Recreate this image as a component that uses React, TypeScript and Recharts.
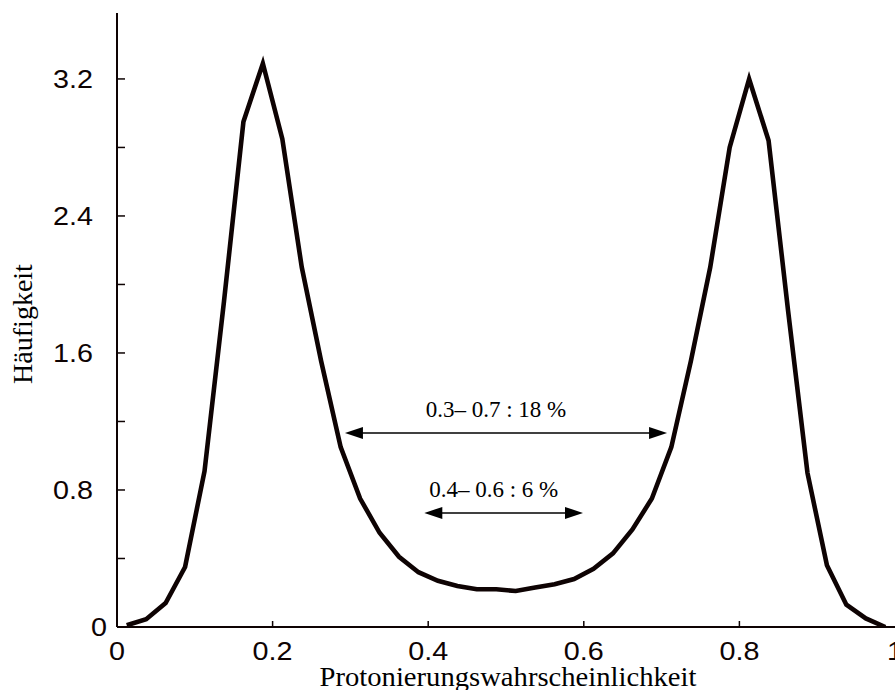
import React from "react";
import { LineChart, Line, XAxis, YAxis, ReferenceLine } from "recharts";

const probability = [
  0.0125, 0.0375, 0.0625, 0.0875, 0.1125, 0.1375, 0.1625, 0.1875, 0.2125, 0.2375,
  0.2625, 0.2875, 0.3125, 0.3375, 0.3625, 0.3875, 0.4125, 0.4375, 0.4625, 0.4875,
  0.5125, 0.5375, 0.5625, 0.5875, 0.6125, 0.6375, 0.6625, 0.6875, 0.7125, 0.7375,
  0.7625, 0.7875, 0.8125, 0.8375, 0.8625, 0.8875, 0.9125, 0.9375, 0.9625, 0.9875,
];
const frequency = [
  0.01, 0.045, 0.14, 0.35, 0.91, 1.9, 2.95, 3.29, 2.85, 2.1,
  1.55, 1.05, 0.75, 0.55, 0.41, 0.32, 0.27, 0.24, 0.22, 0.22,
  0.21, 0.23, 0.25, 0.28, 0.34, 0.43, 0.57, 0.75, 1.05, 1.55,
  2.1, 2.8, 3.2, 2.84, 1.85, 0.9, 0.36, 0.13, 0.05, 0.0,
];
const xTicks = [0, 0.2, 0.4, 0.6, 0.8, 1];
const yTicks = [0, 0.4, 0.8, 1.2, 1.6, 2.0, 2.4, 2.8, 3.2];
const yLabeled = [0, 0.8, 1.6, 2.4, 3.2];
const xLabel = "Protonierungswahrscheinlichkeit";
const yLabel = "Häufigkeit";
const ranges = [
  { from: 0.293, to: 0.707, level: 1.133, text: "0.3– 0.7 : 18 %" },
  { from: 0.395, to: 0.599, level: 0.666, text: "0.4– 0.6 : 6 %" },
];

const data = probability.map((p, i) => ({ p, f: frequency[i] }));

const SANS = "'Liberation Sans', Arial, Helvetica, sans-serif";
const SERIF = "'Liberation Serif', 'Times New Roman', serif";
const INK = "#0e0303";

const fmtY = (v: number) => (v === 0 ? "0" : v.toFixed(1));
const fmtX = (v: number) => (v === 0 ? "0" : v === 1 ? "1" : v.toFixed(1));

const BottomTick = (props: any) => {
  const { x, y, payload } = props;
  const v = payload.value;
  const inner = v > 0 && v < 1;
  return (
    <g>
      {inner && <line x1={x} y1={y} x2={x} y2={y - 6} stroke={INK} strokeWidth={1.5} />}
      <text
        transform={`translate(${x},${y + 33}) scale(1.15,1)`}
        textAnchor="middle"
        fontFamily={SANS}
        fontSize={25}
        fill={INK}
      >
        {fmtX(v)}
      </text>
    </g>
  );
};

const TopTick = (props: any) => {
  const { x, y, payload } = props;
  const v = payload.value;
  if (!(v > 0 && v < 1)) return <g />;
  return <line x1={x} y1={y} x2={x} y2={y + 6} stroke={INK} strokeWidth={1.5} />;
};

const LeftTick = (props: any) => {
  const { x, y, payload } = props;
  const v = payload.value;
  const labeled = yLabeled.some((l) => Math.abs(l - v) < 1e-9);
  const gap = v === 0 ? 10 : 24;
  return (
    <g>
      {v > 0 && <line x1={x} y1={y} x2={x + 8} y2={y} stroke={INK} strokeWidth={1.5} />}
      {labeled && (
        <text
          transform={`translate(${x - gap},${y + 9}) scale(1.15,1)`}
          textAnchor="end"
          fontFamily={SANS}
          fontSize={25}
          fill={INK}
        >
          {fmtY(v)}
        </text>
      )}
    </g>
  );
};

const RightTick = (props: any) => {
  const { x, y, payload } = props;
  const v = payload.value;
  if (v <= 0) return <g />;
  return <line x1={x} y1={y} x2={x - 8} y2={y} stroke={INK} strokeWidth={1.5} />;
};

const makeArrow = (text: string) => (props: any) => {
  const { x1, y1, x2, y2 } = props;
  const head = 18;
  const half = 6;
  const left = Math.min(x1, x2);
  const right = Math.max(x1, x2);
  const y = y1;
  return (
    <g>
      <line x1={left + head - 2} y1={y} x2={right - head + 2} y2={y2} stroke="#000" strokeWidth={1.5} />
      <polygon points={`${left},${y} ${left + head},${y - half} ${left + head},${y + half}`} fill="#000" />
      <polygon points={`${right},${y} ${right - head},${y - half} ${right - head},${y + half}`} fill="#000" />
      <text
        x={(left + right) / 2 - 10}
        y={y - 16}
        textAnchor="middle"
        fontFamily={SERIF}
        fontSize={23}
        fill="#000"
      >
        {text}
      </text>
    </g>
  );
};

export default function App() {
  return (
    <div style={{ position: "absolute", left: 0, top: 0, background: "#fff" }}>
      <LineChart
        width={895}
        height={690}
        data={data}
        margin={{ top: 13, right: 0, bottom: 23, left: 0 }}
      >
        <XAxis
          dataKey="p"
          type="number"
          domain={[0, 1]}
          ticks={xTicks}
          interval={0}
          allowDataOverflow
          height={40}
          tickLine={false}
          tickSize={0}
          tickMargin={0}
          axisLine={{ stroke: INK, strokeWidth: 2 }}
          tick={<BottomTick />}
        />
        <XAxis
          xAxisId="top"
          orientation="top"
          dataKey="p"
          type="number"
          domain={[0, 1]}
          ticks={xTicks}
          interval={0}
          allowDataOverflow
          height={0}
          tickLine={false}
          tickSize={0}
          tickMargin={0}
          axisLine={{ stroke: INK, strokeWidth: 2 }}
          tick={<TopTick />}
        />
        <YAxis
          type="number"
          domain={[0, 3.585]}
          ticks={yTicks}
          interval={0}
          allowDataOverflow
          width={117}
          tickLine={false}
          tickSize={0}
          tickMargin={0}
          axisLine={{ stroke: INK, strokeWidth: 2 }}
          tick={<LeftTick />}
        />
        <YAxis
          yAxisId="right"
          orientation="right"
          type="number"
          domain={[0, 3.585]}
          ticks={yTicks}
          interval={0}
          allowDataOverflow
          width={0}
          tickLine={false}
          tickSize={0}
          tickMargin={0}
          axisLine={{ stroke: INK, strokeWidth: 2 }}
          tick={<RightTick />}
        />
        <Line
          dataKey="f"
          type="linear"
          stroke={INK}
          strokeWidth={4.6}
          strokeLinejoin="miter"
          dot={false}
          isAnimationActive={false}
        />
        {ranges.map((r) => (
          <ReferenceLine
            key={r.text}
            segment={[
              { x: r.from, y: r.level },
              { x: r.to, y: r.level },
            ]}
            shape={makeArrow(r.text)}
          />
        ))}
      </LineChart>
      <svg
        width={895}
        height={690}
        style={{ position: "absolute", left: 0, top: 0, pointerEvents: "none" }}
      >
        <text
          x={508}
          y={686}
          textAnchor="middle"
          fontFamily={SERIF}
          fontSize={27}
          textLength={377}
          lengthAdjust="spacingAndGlyphs"
          fill="#000"
        >
          {xLabel}
        </text>
        <text
          transform="translate(32,324) rotate(-90)"
          textAnchor="middle"
          fontFamily={SERIF}
          fontSize={28}
          fill="#000"
        >
          {yLabel}
        </text>
      </svg>
    </div>
  );
}
